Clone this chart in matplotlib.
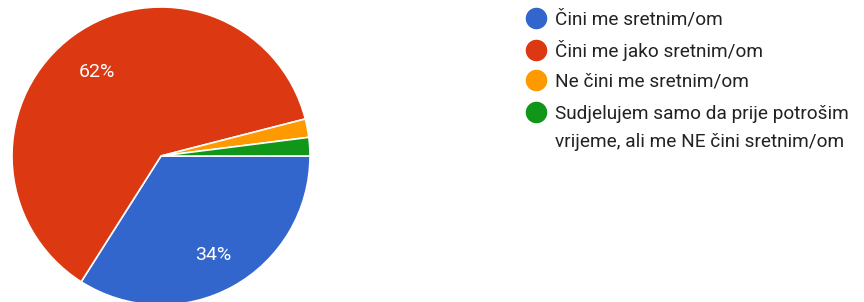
import matplotlib.pyplot as plt
from matplotlib.lines import Line2D

labels = ["Čini me sretnim/om", "Čini me jako sretnim/om", "Ne čini me sretnim/om",
          "Sudjelujem samo da prije potrošim\nvrijeme, ali me NE čini sretnim/om"]
values = [34, 62, 2, 2]
colors = ["#3366cc", "#dc3912", "#ff9900", "#109618"]

W, H = 864, 302
fig = plt.figure(figsize=(W / 100, H / 100), dpi=100)

# pie: centre (161,156) px, radius 149 px
cx, cy, r = 161, 156, 149
ax = fig.add_axes([(cx - r) / W, (H - cy - r) / H, 2 * r / W, 2 * r / H])
wedges, texts, autotexts = ax.pie(
    values, colors=colors, startangle=0, counterclock=False,
    autopct=lambda p: f"{p:.0f}%" if p > 5 else "", pctdistance=0.73,
    wedgeprops=dict(edgecolor="white", linewidth=1.2),
    textprops=dict(color="white", fontsize=14, family="Roboto"))
for t in autotexts:
    x, y = t.get_position()
    t.set_position((x, y - 0.027))
ax.set_xlim(-1, 1)
ax.set_ylim(-1, 1)
ax.set_aspect("auto")
ax.axis("off")

# legend drawn by hand
ys = [18, 50, 80, 112]
for lab, col, y in zip(labels, colors, ys):
    fig.add_artist(Line2D([536 / W], [1 - y / H], marker="o", markersize=14.5,
                          color=col, transform=fig.transFigure))
    for i, line in enumerate(lab.split("\n")):
        fig.text(555 / W, 1 - (y + 7 + 28 * i) / H, line, fontsize=13.7,
                 family="Roboto", color="#222222", va="baseline", ha="left")

fig.savefig("out.png", dpi=100)
